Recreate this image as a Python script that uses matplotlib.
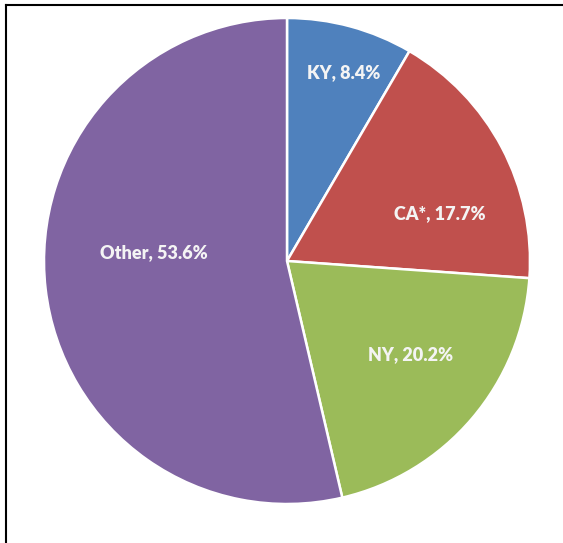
import numpy as np
import matplotlib.pyplot as plt
from matplotlib.lines import Line2D

# share of total by state
states = ["KY", "CA*", "NY", "Other"]
shares = [8.4, 17.7, 20.2, 53.6]
slice_colors = ["#4F81BD", "#C0504D", "#9BBB59", "#8064A2"]

# label placement (fraction of radius, angle nudge in degrees)
label_dist = [0.81, 0.66, 0.64, 0.55]
label_nudge = [-1.5, -10.5, 3.3, -10.2]

W, H = 563, 543
fig = plt.figure(figsize=(W / 100, H / 100), dpi=100)

cx, cy, r = 287, 261, 243
ax = fig.add_axes([(cx - r) / W, (H - cy - r) / H, 2 * r / W, 2 * r / H])

wedges, _ = ax.pie(shares, colors=slice_colors, startangle=90, counterclock=False,
                   wedgeprops=dict(edgecolor="white", linewidth=1.8))
ax.set_xlim(-1, 1)
ax.set_ylim(-1, 1)
ax.set_aspect("equal")
ax.axis("off")

for w, name, val, d, nudge in zip(wedges, states, shares, label_dist, label_nudge):
    ang = np.deg2rad((w.theta1 + w.theta2) / 2 + nudge)
    ax.text(d * np.cos(ang), d * np.sin(ang), f"{name}, {val:.1f}%",
            ha="center", va="center", color="#f4f4f4", fontsize=13,
            fontweight="heavy", family=["Lato", "DejaVu Sans"])

# frame only on top and left edges
fig.add_artist(Line2D([6 / W, 1], [1 - 5 / H, 1 - 5 / H], color="black", lw=1.5))
fig.add_artist(Line2D([6 / W, 6 / W], [0, 1 - 5 / H], color="black", lw=1.5))

fig.savefig("out.png", dpi=100)
